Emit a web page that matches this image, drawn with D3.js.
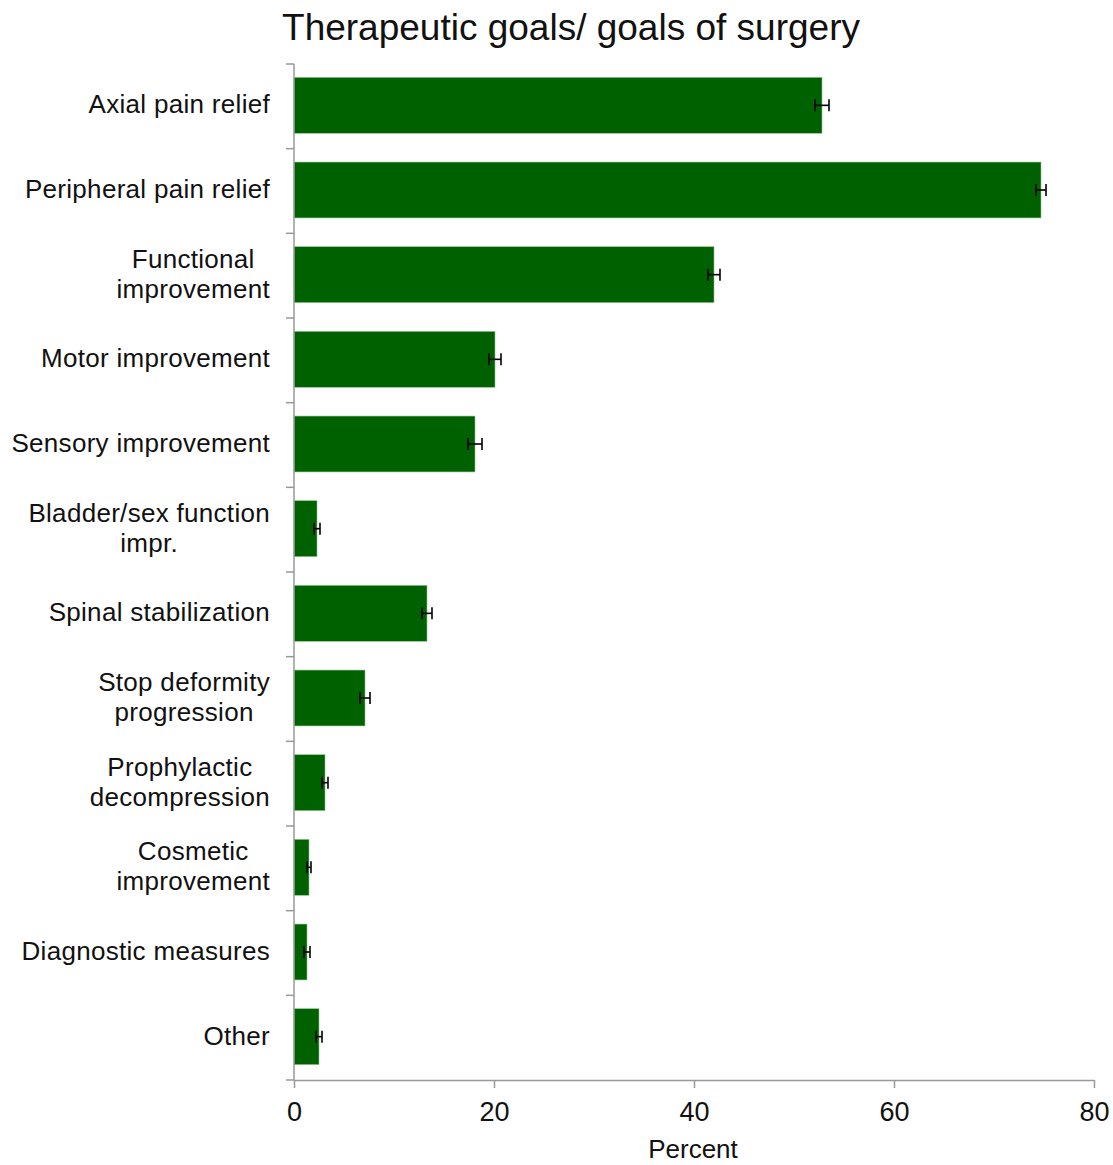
<!DOCTYPE html>
<html><head><meta charset="utf-8">
<script src="https://cdn.jsdelivr.net/npm/d3@7"></script>
<style>body{margin:0;background:#fff}svg{display:block}text{font-family:"Liberation Sans",Arial,sans-serif;fill:#111}</style>
</head><body>
<script>
const categories = [
  ["Axial pain relief"],
  ["Peripheral pain relief"],
  ["Functional", "improvement"],
  ["Motor improvement"],
  ["Sensory improvement"],
  ["Bladder/sex function", "impr."],
  ["Spinal stabilization"],
  ["Stop deformity", "progression"],
  ["Prophylactic", "decompression"],
  ["Cosmetic", "improvement"],
  ["Diagnostic measures"],
  ["Other"]
];
const values = [52.8, 74.7, 42.0, 20.1, 18.1, 2.3, 13.3, 7.1, 3.1, 1.5, 1.3, 2.5];
const errors = [0.7, 0.5, 0.6, 0.6, 0.7, 0.3, 0.5, 0.5, 0.3, 0.2, 0.3, 0.3];
const xTicks = [0, 20, 40, 60, 80];
const title = "Therapeutic goals/ goals of surgery";
const xTitle = "Percent";

const W = 1113, H = 1165;
const m = {left: 294, right: 19, top: 64, bottom: 85};
const svg = d3.select("body").append("svg").attr("width", W).attr("height", H);
const x = d3.scaleLinear().domain([0, 80]).range([m.left, W - m.right]);
const keys = categories.map((c, i) => i);
const y = d3.scaleBand().domain(keys).range([m.top, H - m.bottom]).paddingInner(0.34).paddingOuter(0.17);
const yb = d3.scaleBand().domain(keys).range([m.top, H - m.bottom]);

svg.append("text").attr("x", 571).attr("y", 40).attr("text-anchor", "middle")
  .style("font-size", "37px").text(title);

// bars
svg.append("g").selectAll("rect").data(values).join("rect")
  .attr("x", x(0)).attr("y", (d, i) => y(i) - 1)
  .attr("width", d => x(d) - x(0)).attr("height", y.bandwidth())
  .attr("fill", "#006100").attr("stroke", "#8fbf8f").attr("stroke-width", 0.6);

// error bars
const eg = svg.append("g").attr("stroke", "#000").attr("stroke-width", 1.6);
values.forEach((v, i) => {
  const cy = y(i) - 1 + y.bandwidth() / 2;
  eg.append("line").attr("x1", x(v - errors[i])).attr("x2", x(v + errors[i])).attr("y1", cy).attr("y2", cy);
  [v - errors[i], v + errors[i]].forEach(e =>
    eg.append("line").attr("x1", x(e)).attr("x2", x(e)).attr("y1", cy - 6).attr("y2", cy + 6));
});

// y axis
const ya = svg.append("g");
ya.append("line").attr("x1", m.left).attr("x2", m.left).attr("y1", m.top).attr("y2", H - m.bottom)
  .attr("stroke", "#999").attr("stroke-width", 1.5);
const bounds = keys.map(k => yb(k)).concat([H - m.bottom]);
bounds.forEach(b => ya.append("line").attr("x1", m.left - 8).attr("x2", m.left).attr("y1", b).attr("y2", b)
  .attr("stroke", "#999").attr("stroke-width", 1.5));
categories.forEach((lines, i) => {
  const cy = yb(i) + yb.bandwidth() / 2 - 2;
  const lh = 30;
  const g = ya.append("g");
  const ts = lines.map((l, j) => g.append("text").attr("y", cy + (j - (lines.length - 1) / 2) * lh)
    .attr("dy", "0.35em").style("font-size", "26px").style("letter-spacing", "0.3px").text(l));
  const maxW = d3.max(ts, t => t.node().getComputedTextLength());
  const cx = 270 - maxW / 2;
  ts.forEach(t => t.attr("x", cx).attr("text-anchor", "middle"));
});

// x axis
const xa = svg.append("g").attr("transform", `translate(0,${H - m.bottom})`)
  .call(d3.axisBottom(x).tickValues(xTicks).tickSize(8).tickPadding(14).tickSizeOuter(0));
xa.select(".domain").attr("stroke", "#999").attr("stroke-width", 1.5);
xa.selectAll(".tick line").attr("stroke", "#999").attr("stroke-width", 1.5);
xa.selectAll(".tick text").style("font-size", "27px").attr("fill", "#111")
  .style("font-family", '"Liberation Sans",Arial,sans-serif');

svg.append("text").attr("x", (x(0) + x(80)) / 2 - 1).attr("y", 1158).attr("text-anchor", "middle")
  .style("font-size", "26px").text(xTitle);
</script>
</body></html>
